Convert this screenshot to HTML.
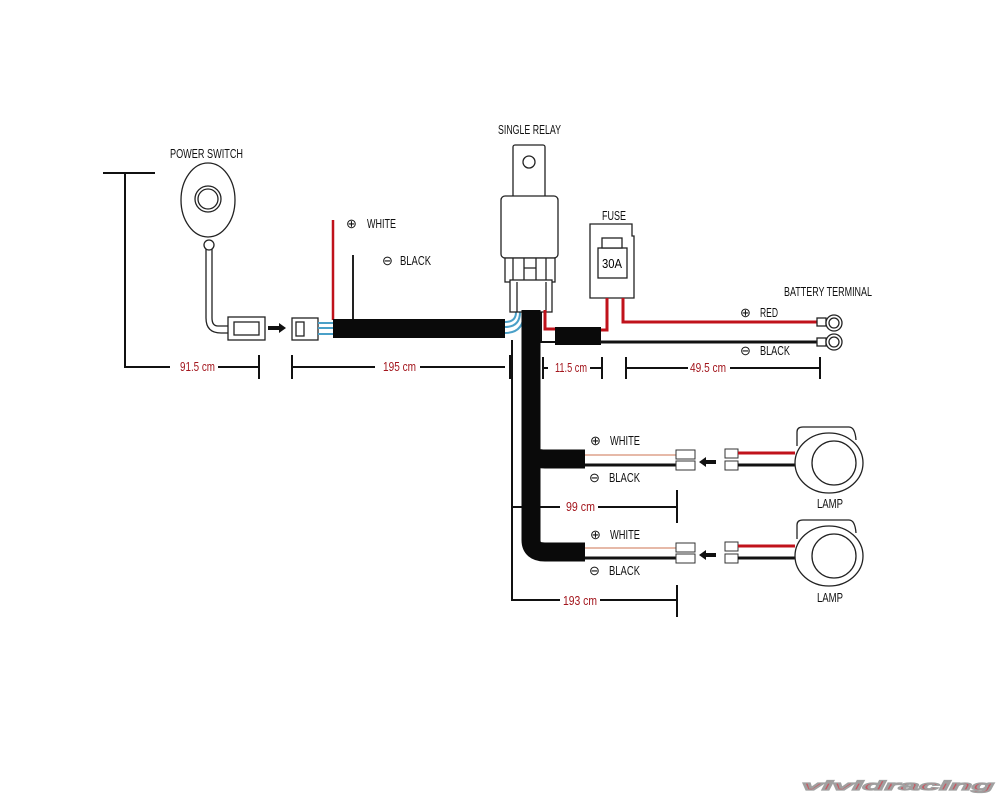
<!DOCTYPE html>
<html><head><meta charset="utf-8"><style>
html,body{margin:0;padding:0;background:#fff;}
svg{display:block}
text{font-family:"Liberation Sans",sans-serif;font-size:13px;}
</style></head><body>
<svg width="1000" height="800" viewBox="0 0 1000 800" xmlns="http://www.w3.org/2000/svg">
<rect width="1000" height="800" fill="#fff"/>
<g fill="none" stroke="#111" stroke-width="1.5">
<path d="M103 173H155M125 173V367H170" stroke-width="2"/>
<path d="M218 367H258M259 355V379" stroke-width="2"/>
<path d="M292 355V379M292 367H375M420 367H505M510 355V379" stroke-width="2"/>
<path d="M543 357V379M543 368H548M590 368H601M602 357V379" stroke-width="2"/>
<path d="M626 357V379M626 368H688M730 368H820M820 357V379" stroke-width="2"/>
<path d="M512 340V600H560M600 600H677M677 585V617" stroke-width="2"/>
<path d="M512 507H560M598 507H677M677 490V523" stroke-width="2"/>
</g>

<g fill="#fff" stroke="#222" stroke-width="1.3">
<ellipse cx="208" cy="200" rx="27" ry="37"/>
<circle cx="208" cy="199" r="13"/>
<circle cx="208" cy="199" r="10"/>
<path d="M206 248V318Q206 333 221 333H230V326H218Q212 326 212 318V248Z"/>
<circle cx="209" cy="245" r="5"/>
<rect x="228" y="317" width="37" height="23"/>
<rect x="234" y="322" width="25" height="13"/>
<rect x="292" y="318" width="26" height="22"/>
<rect x="296" y="322" width="8" height="14"/>
</g>
<path d="M268 328H280" stroke="#111" stroke-width="4"/>
<path d="M279 323L286 328L279 333Z" fill="#111"/>
<path d="M318 323H335M318 328H335M318 334H335" stroke="#4aa0c8" stroke-width="2"/>
<path d="M333 220V320" stroke="#c0121b" stroke-width="2.5"/>
<path d="M353 255V320" stroke="#222" stroke-width="2"/>
<rect x="333" y="319" width="172" height="19" fill="#0a0a0a"/>
<path d="M505 322Q516 322 516 312M505 327Q520 327 520 312M505 333Q524 333 524 312" stroke="#4aa0c8" stroke-width="2" fill="none"/>

<g fill="#fff" stroke="#222" stroke-width="1.3">
<rect x="513" y="145" width="32" height="55" rx="2"/>
<circle cx="529" cy="162" r="6"/>
<rect x="501" y="196" width="57" height="62" rx="4"/>
<rect x="505" y="258" width="50" height="24"/>
<path d="M513 258V282M524 258V282M536 258V282M546 258V282M524 268H536"/>
<rect x="510" y="280" width="42" height="32"/>
<path d="M517 282V312M546 282V312"/>
</g>
<path d="M531 310V450Q531 459 545 459H585" stroke="#0a0a0a" stroke-width="19" fill="none"/>
<path d="M531 440V540Q531 552 545 552H585" stroke="#0a0a0a" stroke-width="19" fill="none"/>
<path d="M545 310V329H560" stroke="#c0121b" stroke-width="3" fill="none"/>
<path d="M541 312V342H560" stroke="#111" stroke-width="2" fill="none"/>
<g fill="#fff" stroke="#222" stroke-width="1.3">
<path d="M590 224H632V236H634V298H590Z"/>
<rect x="598" y="248" width="29" height="30"/>
<rect x="602" y="238" width="20" height="10"/>
</g>
<text x="602" y="268" font-size="13" textLength="20" lengthAdjust="spacingAndGlyphs">30A</text>
<path d="M607 298V330H598" stroke="#c0121b" stroke-width="3" fill="none"/>
<path d="M623 298V322H826" stroke="#c0121b" stroke-width="3" fill="none"/>
<rect x="555" y="327" width="46" height="18" fill="#0a0a0a"/>
<path d="M600 342H826" stroke="#111" stroke-width="3"/>
<g fill="#fff" stroke="#222" stroke-width="1.3">
<rect x="817" y="318" width="9" height="8"/>
<rect x="817" y="338" width="9" height="8"/>
<circle cx="834" cy="323" r="8"/><circle cx="834" cy="323" r="5"/>
<circle cx="834" cy="342" r="8"/><circle cx="834" cy="342" r="5"/>
</g>

<g id="br">
<path d="M585 455H676" stroke="#e6b9a8" stroke-width="2"/>
<path d="M585 465H676" stroke="#111" stroke-width="3"/>
<g fill="#fff" stroke="#333" stroke-width="1">
<rect x="676" y="450" width="19" height="9"/><rect x="676" y="461" width="19" height="9"/>
<rect x="725" y="449" width="13" height="9"/><rect x="725" y="461" width="13" height="9"/>
</g>
<path d="M704 462H716" stroke="#111" stroke-width="4"/>
<path d="M706 457L699 462L706 467Z" fill="#111"/>
<path d="M738 453H795" stroke="#c0121b" stroke-width="3"/>
<path d="M738 465H795" stroke="#111" stroke-width="3"/>
<g fill="#fff" stroke="#222" stroke-width="1.3">
<path d="M797 446V432Q797 427 803 427H849Q855 427 856 440"/>
<ellipse cx="829" cy="463" rx="34" ry="30"/>
<circle cx="834" cy="463" r="22"/>
</g>
</g>
<use href="#br" transform="translate(0,93)"/>

<g fill="#111">
<text x="170" y="158" textLength="73" lengthAdjust="spacingAndGlyphs">POWER SWITCH</text>
<text x="498" y="134" textLength="63" lengthAdjust="spacingAndGlyphs">SINGLE RELAY</text>
<text x="602" y="220" textLength="24" lengthAdjust="spacingAndGlyphs">FUSE</text>
<text x="784" y="296" textLength="88" lengthAdjust="spacingAndGlyphs">BATTERY TERMINAL</text>
<text x="346" y="228">⊕</text><text x="367" y="228" textLength="29" lengthAdjust="spacingAndGlyphs">WHITE</text>
<text x="382" y="265">⊖</text><text x="400" y="265" textLength="31" lengthAdjust="spacingAndGlyphs">BLACK</text>
<text x="740" y="317">⊕</text><text x="760" y="317" textLength="18" lengthAdjust="spacingAndGlyphs">RED</text>
<text x="740" y="355">⊖</text><text x="760" y="355" textLength="30" lengthAdjust="spacingAndGlyphs">BLACK</text>
<text x="590" y="445">⊕</text><text x="610" y="445" textLength="30" lengthAdjust="spacingAndGlyphs">WHITE</text>
<text x="589" y="482">⊖</text><text x="609" y="482" textLength="31" lengthAdjust="spacingAndGlyphs">BLACK</text>
<text x="590" y="539">⊕</text><text x="610" y="539" textLength="30" lengthAdjust="spacingAndGlyphs">WHITE</text>
<text x="589" y="575">⊖</text><text x="609" y="575" textLength="31" lengthAdjust="spacingAndGlyphs">BLACK</text>
<text x="817" y="508" textLength="26" lengthAdjust="spacingAndGlyphs">LAMP</text>
<text x="817" y="602" textLength="26" lengthAdjust="spacingAndGlyphs">LAMP</text>
</g>
<g fill="#a3161d">
<text x="180" y="371" textLength="35" lengthAdjust="spacingAndGlyphs">91.5 cm</text>
<text x="383" y="371" textLength="33" lengthAdjust="spacingAndGlyphs">195 cm</text>
<text x="555" y="372" textLength="32" lengthAdjust="spacingAndGlyphs">11.5 cm</text>
<text x="690" y="372" textLength="36" lengthAdjust="spacingAndGlyphs">49.5 cm</text>
<text x="566" y="511" textLength="29" lengthAdjust="spacingAndGlyphs">99 cm</text>
<text x="563" y="605" textLength="34" lengthAdjust="spacingAndGlyphs">193 cm</text>
</g>
<text x="802" y="790" font-size="40" font-weight="bold" font-style="italic" fill="#c45a64" stroke="#a0a0a0" stroke-width="1.2" textLength="192" lengthAdjust="spacingAndGlyphs">vividracing</text>
</svg>
</body></html>
